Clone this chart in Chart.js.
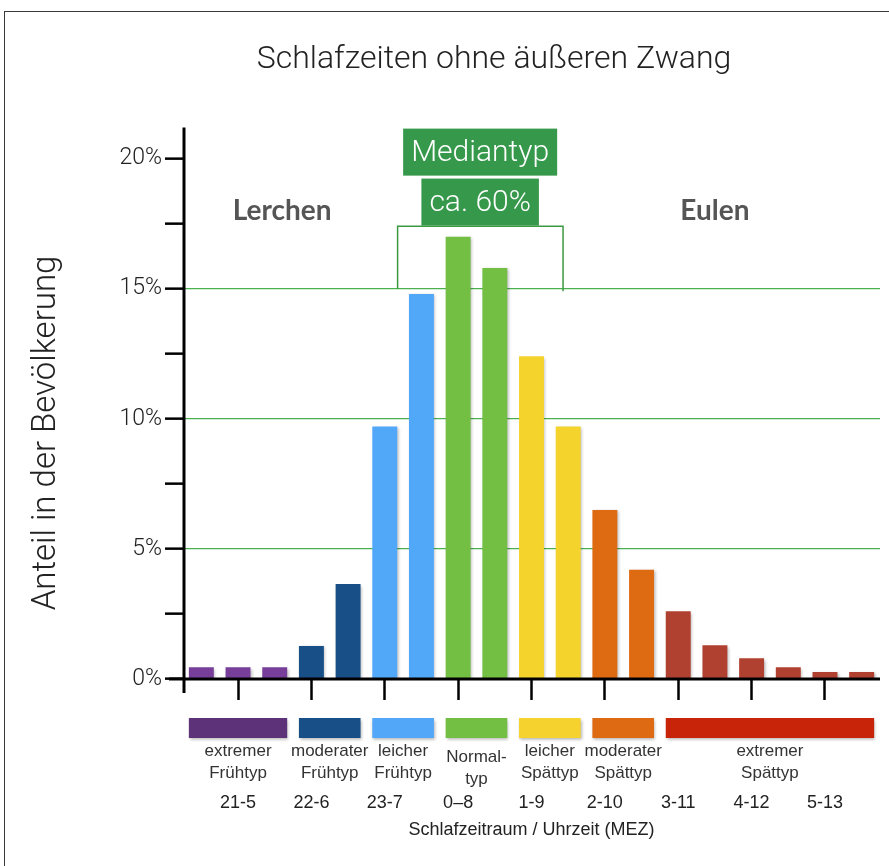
<!DOCTYPE html>
<html lang="de">
<head>
<meta charset="utf-8">
<script src="https://cdn.jsdelivr.net/npm/chart.js@4.4.1/dist/chart.umd.min.js"></script>
<style>
    html, body { margin: 0; padding: 0; background: #fff; overflow: hidden; }
    #rahmen { position: absolute; left: 4px; top: 11px; width: 900px; height: 900px; border: 1px solid #3a3a3a; }
    #grafico { position: absolute; left: 0; top: 0; }
</style>
</head>
<body>
<div id="rahmen"></div>
<canvas id="grafico" width="889" height="866"></canvas>
<script>
// Halbstunden-Klassen (Beschriftung nur an jeder zweiten Klasse)
const klassen = ["", "21-5", "", "22-6", "", "23-7", "", "0–8", "", "1-9", "", "2-10", "", "3-11", "", "4-12", "", "5-13", ""];
// Anteil in der Bevölkerung (%)
const anteile = [0.45, 0.45, 0.45, 1.27, 3.65, 9.7, 14.8, 17.0, 15.8, 12.4, 9.7, 6.5, 4.2, 2.6, 1.3, 0.8, 0.45, 0.27, 0.27];

// Chronotypen-Gruppen
const gruppenNamen = [["extremer", "Frühtyp"], ["moderater", "Frühtyp"], ["leicher", "Frühtyp"], ["Normal-", "typ"], ["leicher", "Spättyp"], ["moderater", "Spättyp"], ["extremer", "Spättyp"]];
const gruppenStart = [0, 3, 5, 7, 9, 11, 13];
const gruppenEnde = [2, 4, 6, 8, 10, 12, 18];
const balkenFarben = ["#773f9a", "#174f86", "#52a8f8", "#73bf43", "#f5d32d", "#de6a12", "#b0402f"];
const streifenFarben = ["#5e3278", "#174f86", "#52a7f9", "#72bf44", "#f5d22e", "#de6a14", "#c8240a"];

const yMarken = [0, 2.5, 5, 7.5, 10, 12.5, 15, 17.5, 20];
const gitterWerte = [5, 10, 15];

const schrift = '"Liberation Sans", Arial, sans-serif';
const leicht = 'Roboto, "Liberation Sans", sans-serif';

// Farbe je Balken aus der Gruppe ableiten
const farbeJeBalken = anteile.map((_, i) => {
    const g = gruppenStart.findIndex((s, k) => i >= s && i <= gruppenEnde[k]);
    return balkenFarben[g];
});

const zusatz = {
    id: "zusatz",
    beforeDatasetsDraw(chart) {
        const ctx = chart.ctx;
        ctx.save();
        ctx.shadowColor = "rgba(0,0,0,0.28)";
        ctx.shadowBlur = 3;
        ctx.shadowOffsetX = 1.5;
        ctx.shadowOffsetY = 1.5;
    },
    afterDatasetsDraw(chart) {
        const { ctx, chartArea: a, scales: { x, y } } = chart;
        ctx.restore();
        const halb = chart.getDatasetMeta(0).data[0].width / 2;

        // Achsenlinien (etwas über den Ursprung hinaus)
        ctx.save();
        ctx.strokeStyle = "#000";
        ctx.lineWidth = 3;
        ctx.beginPath();
        ctx.moveTo(a.left + 1, a.top);
        ctx.lineTo(a.left + 1, a.bottom + 14);
        ctx.moveTo(a.left - 14, a.bottom);
        ctx.lineTo(a.right, a.bottom);
        ctx.stroke();
        ctx.restore();

        // Farbstreifen und Typ-Beschriftungen
        gruppenStart.forEach((start, g) => {
            const x1 = x.getPixelForValue(start) - halb;
            const x2 = x.getPixelForValue(gruppenEnde[g]) + halb;
            ctx.save();
            ctx.shadowColor = "rgba(0,0,0,0.3)";
            ctx.shadowBlur = 3;
            ctx.shadowOffsetX = 1;
            ctx.shadowOffsetY = 1.5;
            ctx.fillStyle = streifenFarben[g];
            ctx.fillRect(x1, a.bottom + 39, x2 - x1, 20);
            ctx.restore();

            const mitte = (x1 + x2) / 2;
            const versatz = g === 3 ? 6 : 0;
            ctx.fillStyle = "#333";
            ctx.font = "17px " + schrift;
            ctx.textAlign = "center";
            ctx.textBaseline = "middle";
            ctx.fillText(gruppenNamen[g][0], mitte, a.bottom + 72 + versatz);
            ctx.fillText(gruppenNamen[g][1], mitte, a.bottom + 94 + versatz);
        });

        // Lerchen / Eulen
        ctx.fillStyle = "#555";
        ctx.font = "bold 28px Lato, sans-serif";
        ctx.fillText("Lerchen", x.getPixelForValue(2.2), y.getPixelForValue(18));
        ctx.fillText("Eulen", x.getPixelForValue(14), y.getPixelForValue(18));

        // Klammer um den Mediantyp
        ctx.strokeStyle = "#3a9a3f";
        ctx.lineWidth = 1.5;
        ctx.beginPath();
        ctx.moveTo(x.getPixelForValue(5.35), y.getPixelForValue(15));
        ctx.lineTo(x.getPixelForValue(5.35), y.getPixelForValue(17.4));
        ctx.lineTo(x.getPixelForValue(9.86), y.getPixelForValue(17.4));
        ctx.lineTo(x.getPixelForValue(9.86), y.getPixelForValue(14.9));
        ctx.stroke();

        // Mediantyp-Kästen
        ctx.font = "300 30px " + leicht;
        [["Mediantyp", 20.25], ["ca. 60%", 18.33]].forEach(([text, wert]) => {
            const breite = ctx.measureText(text).width + 16;
            const cx = x.getPixelForValue(7.6);
            const cy = y.getPixelForValue(wert);
            ctx.fillStyle = "#35984a";
            ctx.fillRect(cx - breite / 2, cy - 23.5, breite, 47);
            ctx.fillStyle = "#fff";
            ctx.fillText(text, cx, cy + 1);
        });

        // y-Achsentitel
        ctx.save();
        ctx.translate(47, 433);
        ctx.rotate(-Math.PI / 2);
        ctx.fillStyle = "#222";
        ctx.font = "300 33px " + leicht;
        ctx.fillText("Anteil in der Bevölkerung", 0, 0);
        ctx.restore();
    }
};

Chart.defaults.font.family = schrift;

new Chart(document.getElementById("grafico"), {
    type: "bar",
    data: {
        labels: klassen,
        datasets: [{
            data: anteile,
            backgroundColor: farbeJeBalken,
            barPercentage: 0.68,
            categoryPercentage: 1
        }]
    },
    options: {
        responsive: false,
        animation: false,
        layout: { padding: { top: 0, right: 9, bottom: 0, left: 108 } },
        scales: {
            x: {
                afterFit: s => {
                    s.height = 187;
                    s.paddingLeft = 0;
                    s.paddingRight = 0;
                },
                border: { display: false },
                grid: {
                    drawOnChartArea: false,
                    offset: false,
                    tickLength: 21,
                    tickWidth: 2.5,
                    tickColor: c => (c.index % 2 === 1 ? "#000" : "transparent")
                },
                ticks: { autoSkip: false, maxRotation: 0, padding: 92, color: "#222", font: { size: 18 } },
                title: {
                    display: true,
                    text: "Schlafzeitraum / Uhrzeit (MEZ)",
                    color: "#222",
                    font: { size: 18 },
                    padding: { top: 0, bottom: 25 }
                }
            },
            y: {
                min: 0,
                max: 21.2,
                afterBuildTicks: s => { s.ticks = yMarken.map(v => ({ value: v })); },
                afterFit: s => { s.width = 75; },
                border: { display: false },
                grid: {
                    color: c => (c.tick && gitterWerte.includes(c.tick.value) ? "#4caf50" : "transparent"),
                    lineWidth: 1.3,
                    tickColor: "#000",
                    tickWidth: 2.5,
                    tickLength: 18
                },
                ticks: {
                    padding: 3,
                    color: "#222",
                    font: { family: leicht, size: 23, weight: 300 },
                    callback: v => (v % 5 === 0 ? v + "%" : "")
                }
            }
        },
        plugins: {
            legend: { display: false },
            tooltip: { enabled: false },
            title: {
                display: true,
                text: "Schlafzeiten ohne äußeren Zwang",
                color: "#222",
                font: { family: leicht, size: 32, weight: 300 },
                padding: { top: 41, bottom: 48 }
            }
        }
    },
    plugins: [zusatz]
});
</script>
</body>
</html>
